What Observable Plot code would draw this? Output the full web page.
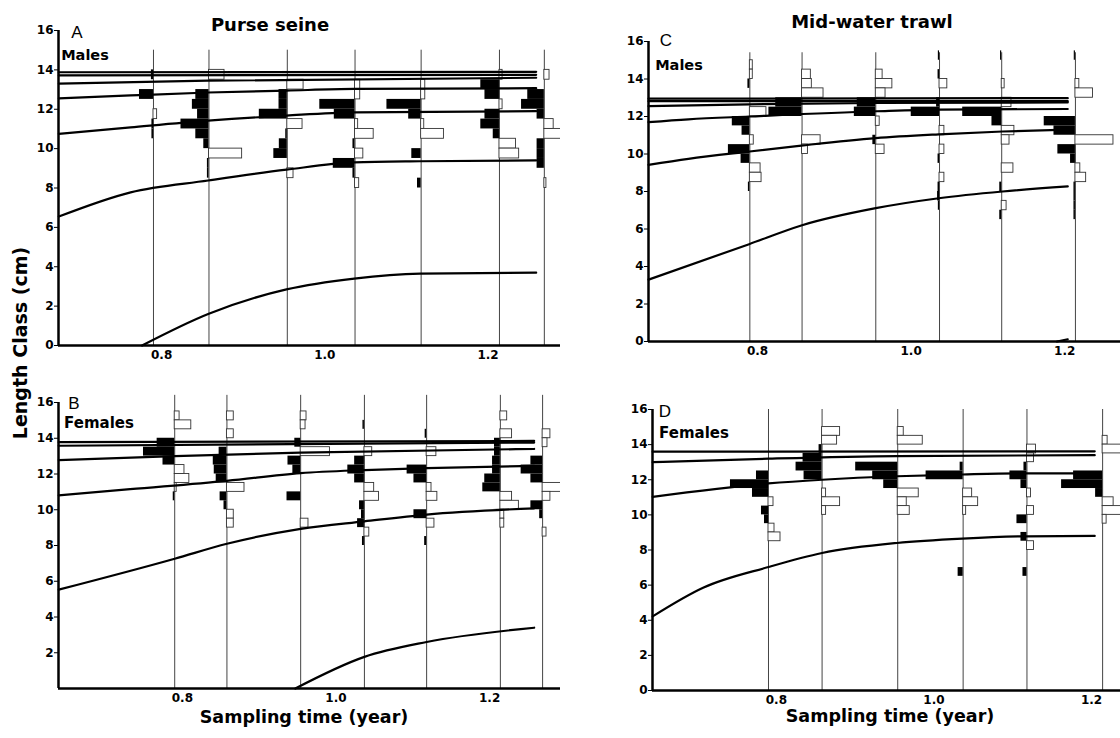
<!DOCTYPE html>
<html><head><meta charset="utf-8">
<script src="https://cdn.jsdelivr.net/npm/d3@7"></script>
<script src="https://cdn.jsdelivr.net/npm/@observablehq/plot@0.6"></script>
<style>
body{margin:0;background:#fff;}
#fig{position:relative;width:1120px;height:738px;overflow:hidden;font-family:"DejaVu Sans",Arial,sans-serif;color:#000;}
#fig svg{position:absolute;}
.t{position:absolute;transform:translate(-50%,-50%);white-space:nowrap;line-height:1;}
.b{font-weight:bold;}
.r{font-family:"Liberation Sans",Arial,sans-serif;}
</style></head><body><div id="fig"></div>
<script>
// ---------- data ----------
const samplingTimes = [0.79, 0.858, 0.954, 1.037, 1.118, 1.214, 1.269];
const lengthTicks = [0, 2, 4, 6, 8, 10, 12, 14, 16];
const lengthTicksB = [2, 4, 6, 8, 10, 12, 14, 16];
const timeTicks = [0.8, 1.0, 1.2];
const binWidth = 0.5;

// histograms: for each sampling time, [lower bound of length class (cm), score]
// positive score = black bar (left of the sample line), negative = open bar (right)
const histA = [
  [[13.5,2],[12.5,13.5],[11.5,-3.5],[11.0,1.5],[10.5,1.5]],
  [[13.5,-15],[12.5,12.7],[12.0,16],[11.5,11],[11.0,27],[10.5,12.7],[10.0,5],[9.5,-32],[9.0,1.5],[8.5,1.5]],
  [[13.0,-15.7],[12.5,8],[12.0,8],[11.5,27],[11.0,-14.7],[10.5,1.5],[10.0,7.7],[9.5,13],[8.5,-6]],
  [[13.0,-5],[12.5,-5],[12.0,34],[11.5,20],[11.0,-3],[10.5,-18],[10.0,2],[9.5,-8],[9.0,21],[8.5,2],[8.0,-4]],
  [[13.0,-4],[12.5,-4],[12.0,33],[11.5,12],[11.0,-3],[10.5,-22],[9.5,9],[8.0,3.5]],
  [[13.5,-3],[13.0,18],[12.5,14],[12.0,-3],[11.5,14],[11.0,18],[10.5,6],[10.0,-16],[9.5,-19]],
  [[13.5,-5],[12.5,16],[12.0,22],[11.5,7],[11.0,-9],[10.5,-30],[10.0,7],[9.5,7],[9.0,7],[8.0,-2]]
];
const histB = [
  [[15.0,-5],[14.5,-17],[13.5,18],[13.0,32],[12.5,12],[12.0,-10],[11.5,-15],[11.0,-2],[10.5,1.5]],
  [[15.0,-7],[14.0,-7],[13.0,8],[12.5,14],[12.0,13],[11.5,11],[11.0,-18],[10.5,7],[10.0,3],[9.5,-7],[9.0,-7]],
  [[15.0,-6],[14.5,-5],[13.5,6],[13.0,-30],[12.5,13],[12.0,8],[10.5,14],[9.0,-8]],
  [[14.5,1.5],[13.0,-8],[12.5,10],[12.0,17],[11.5,10],[11.0,-10],[10.5,-15],[10.0,5],[9.5,3],[9.0,7],[8.5,-5],[8.0,2]],
  [[14.0,1.5],[13.0,-10],[12.0,20],[11.5,13],[11.0,-5],[10.5,-11],[9.5,13],[9.0,-8],[8.0,2]],
  [[15.0,-7],[14.0,-12],[13.5,6],[13.0,6],[12.5,8],[12.0,8],[11.5,16],[11.0,18],[10.5,-12],[10.0,-19],[9.5,-4],[9.0,-4]],
  [[14.0,-8],[13.5,-5],[12.5,12],[12.0,22],[11.5,12],[11.0,-30],[10.5,-8],[10.0,12],[9.5,3],[8.5,-4]]
];
const histC = [
  [[14.5,-3],[14.0,-3],[13.5,2],[12.0,-17],[11.5,18],[11.0,8],[10.5,-4],[10.0,22],[9.5,9],[9.0,-11],[8.5,-12],[8.0,1.5]],
  [[14.0,-9],[13.5,-10],[13.0,-22],[12.5,27],[12.0,34],[10.5,-19],[10.0,-6]],
  [[14.0,-7],[13.5,-17],[13.0,-10],[12.5,19],[12.0,22],[11.5,-4],[10.5,3],[10.0,-9]],
  [[15.0,1.2],[14.0,1.5],[13.5,-8],[12.5,3],[12.0,29],[11.0,-5],[10.0,-5],[9.5,1.5],[8.5,-5],[8.0,1.5],[7.5,2],[7.0,1.2]],
  [[15.0,1.2],[13.5,-3],[12.5,-10],[12.0,40],[11.5,10],[11.0,-13],[10.5,-8],[9.0,-12],[8.0,2],[7.0,-5],[6.5,2]],
  [[15.0,1.2],[13.5,-4],[13.0,-18],[11.5,32],[11.0,22],[10.5,-39],[10.0,18],[9.5,5],[9.0,-5],[8.5,-11],[8.0,1.5],[7.5,1.5],[7.0,1.5],[6.5,1.5]]
];
const histD = [
  [[12.0,12],[11.5,38],[11.0,16],[10.5,-5],[10.0,7],[9.5,4],[9.0,-6],[8.5,-12]],
  [[14.5,-18],[14.0,-15],[13.5,3],[13.0,19],[12.5,26],[12.0,18],[11.0,-4],[10.5,-18],[10.0,-4]],
  [[14.5,-6],[14.0,-25],[12.5,42],[12.0,25],[11.5,14],[11.0,-21],[10.5,-9],[10.0,-12]],
  [[12.5,3],[12.0,37],[11.0,-9],[10.5,-15],[10.0,-3],[6.5,5]],
  [[13.5,-9],[13.0,-7],[12.5,3],[12.0,17],[11.5,6],[11.0,-4],[10.0,-7],[9.5,10],[8.5,6],[8.0,-7],[6.5,4]],
  [[14.0,-5],[13.5,-25],[12.0,29],[11.5,41],[11.0,7],[10.5,-11],[10.0,-25],[9.5,-4]]
];

// growth curves: [time (year), length (cm)]
const curvesA = [
  [[0.674,13.88],[1.259,13.9]],
  [[0.674,13.72],[1.259,13.75]],
  [[0.674,13.3],[0.857,13.45],[1.259,13.6]],
  [[0.674,12.55],[0.762,12.7],[0.857,12.85],[0.953,12.95],[1.036,13.03],[1.259,13.07]],
  [[0.674,10.75],[0.762,11.08],[0.857,11.42],[0.953,11.68],[1.036,11.84],[1.259,11.9]],
  [[0.674,6.55],[0.762,7.78],[0.857,8.38],[0.953,8.93],[1.036,9.3],[1.117,9.36],[1.259,9.4]],
  [[0.776,0],[0.857,1.6],[0.953,2.85],[1.036,3.4],[1.117,3.65],[1.259,3.7]]
];
const curvesB = [
  [[0.639,13.78],[1.258,13.85]],
  [[0.639,13.58],[1.258,13.76]],
  [[0.639,12.78],[0.79,13.0],[0.954,13.2],[1.258,13.4]],
  [[0.639,10.8],[0.732,11.15],[0.858,11.62],[0.954,12.05],[1.037,12.22],[1.118,12.33],[1.258,12.45]],
  [[0.639,5.53],[0.79,7.26],[0.858,8.1],[0.954,8.93],[1.037,9.35],[1.118,9.73],[1.258,10.08]],
  [[0.947,0],[1.037,1.77],[1.118,2.6],[1.258,3.4]]
];
const curvesC = [
  [[0.658,12.95],[1.204,12.98]],
  [[0.658,12.82],[1.204,12.82]],
  [[0.658,12.55],[0.789,12.65],[0.954,12.72],[1.204,12.75]],
  [[0.658,11.7],[0.71,11.85],[0.789,12.0],[0.954,12.28],[1.036,12.37],[1.204,12.4]],
  [[0.658,9.42],[0.71,9.74],[0.789,10.13],[0.857,10.45],[0.954,10.85],[1.036,11.05],[1.119,11.2],[1.204,11.3]],
  [[0.658,3.3],[0.789,5.19],[0.857,6.19],[0.954,7.11],[1.036,7.64],[1.119,8.0],[1.204,8.27]],
  [[1.19,0],[1.204,0.12]]
];
const curvesD = [
  [[0.643,13.6],[1.204,13.62]],
  [[0.643,13.0],[0.79,13.2],[0.953,13.35],[1.204,13.4]],
  [[0.643,11.03],[0.79,11.79],[0.858,12.0],[0.953,12.2],[1.036,12.3],[1.117,12.36],[1.204,12.36]],
  [[0.643,4.22],[0.707,5.85],[0.79,7.03],[0.858,7.83],[0.953,8.4],[1.036,8.65],[1.117,8.78],[1.204,8.8]]
];

// ---------- drawing ----------
const k = 0.00127; // years per score unit
const fig = document.getElementById("fig");

function panel(o) {
  const times = samplingTimes.slice(0, o.hist.length);
  const bars = [];
  o.hist.forEach((bins, i) => bins.forEach(([lo, s]) => bars.push({t: times[i], lo, hi: lo + binWidth, s})));
  const black = bars.filter(b => b.s > 0), open = bars.filter(b => b.s < 0);
  const pts = o.curves.flatMap((c, id) => c.map(([t, v]) => ({id, t, v})));
  const svg = Plot.plot({
    width: o.width, height: o.height,
    marginLeft: o.mL, marginRight: 0, marginTop: o.mT, marginBottom: o.mB,
    x: {domain: o.xDomain}, y: {domain: [0, 16]},
    style: {fontFamily: '"DejaVu Sans", Arial, sans-serif', fontWeight: "bold", fontSize: "12px", background: "transparent", color: "#000"},
    marks: [
      Plot.ruleX(times, {y1: 0, y2: o.lineTop, stroke: "#444", strokeWidth: 1}),
      Plot.rect(open, {x1: "t", x2: d => d.t - d.s * k, y1: "lo", y2: "hi", fill: "white", stroke: "#333", strokeWidth: 0.9, clip: true}),
      Plot.rect(black, {x1: d => d.t - d.s * k, x2: "t", y1: "lo", y2: "hi", fill: "black", clip: true}),
      Plot.line(pts, {x: "t", y: "v", z: "id", curve: "monotone-x", stroke: "black", strokeWidth: 2.2}),
      Plot.ruleY([0], {stroke: "black", strokeWidth: 2.5}),
      Plot.ruleX([o.xDomain[0]], {y1: 0, y2: 16, stroke: "black", strokeWidth: 2.5}),
      Plot.axisY({ticks: o.yTicks, tickSize: 4, tickPadding: 1, label: null, fontWeight: "bold", fontSize: 12}),
      Plot.axisX({ticks: timeTicks, tickFormat: d3.format(".1f"), tickSize: 0, tickPadding: 5, label: null, fontWeight: "bold", fontSize: 12})
    ]
  });
  svg.style.left = o.left + "px";
  svg.style.top = o.top + "px";
  fig.appendChild(svg);
}

panel({hist: histA, curves: curvesA, lineTop: 15.0, yTicks: lengthTicks, xDomain: [0.6736, 1.2888],
  left: 0, top: 0, width: 560, height: 380, mL: 58, mT: 30, mB: 35});
panel({hist: histB, curves: curvesB, lineTop: 16.4, yTicks: lengthTicksB, xDomain: [0.6387, 1.2923],
  left: 0, top: 372, width: 560, height: 350, mL: 58, mT: 30, mB: 34});
panel({hist: histC, curves: curvesC, lineTop: 15.4, yTicks: lengthTicks, xDomain: [0.658, 1.2727],
  left: 560, top: 0, width: 560, height: 375, mL: 88, mT: 41, mB: 34});
panel({hist: histD, curves: curvesD, lineTop: 16.0, yTicks: lengthTicks, xDomain: [0.6428, 1.2367],
  left: 560, top: 372, width: 560, height: 350, mL: 92, mT: 37, mB: 32});

function label(text, x, y, cls, size, rot) {
  const d = document.createElement("div");
  d.className = "t " + cls;
  d.textContent = text;
  d.style.left = x + "px"; d.style.top = y + "px"; d.style.fontSize = size + "px";
  if (rot) d.style.transform = "translate(-50%,-50%) rotate(-90deg)";
  fig.appendChild(d);
}
label("Purse seine", 270, 25, "b", 18);
label("Mid-water trawl", 872, 22, "b", 18);
label("A", 77, 32, "r", 17);
label("B", 74, 403, "r", 17);
label("C", 666, 40, "r", 17);
label("D", 665, 411, "r", 17);
label("Males", 85, 55, "b", 14.5);
label("Males", 679, 65, "b", 14.5);
label("Females", 99, 423, "b", 15);
label("Females", 694, 433, "b", 15);
label("Length Class (cm)", 20, 343, "b", 19, true);
label("Sampling time (year)", 304, 718, "b", 17.5);
label("Sampling time (year)", 890, 717, "b", 17.5);
</script></body></html>
